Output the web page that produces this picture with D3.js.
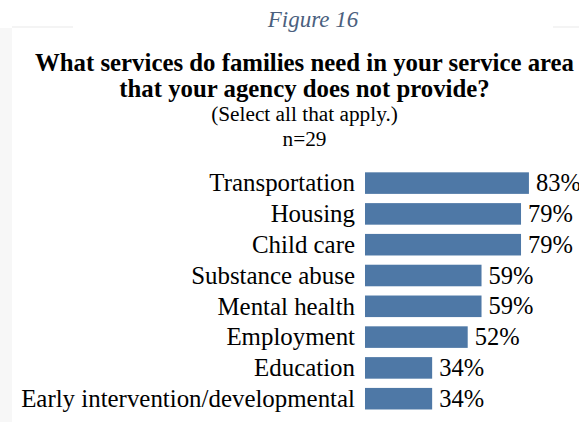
<!DOCTYPE html>
<html>
<head>
<meta charset="utf-8">
<script src="https://cdn.jsdelivr.net/npm/d3@7"></script>
<style>
  html, body { margin: 0; padding: 0; background: #ffffff; }
  svg { display: block; }
</style>
</head>
<body>
<div id="chart"></div>
<script>
// Share of agencies reporting each unmet service need
const categories = [
  "Transportation",
  "Housing",
  "Child care",
  "Substance abuse",
  "Mental health",
  "Employment",
  "Education",
  "Early intervention/developmental"
];
const values = [83, 79, 79, 59, 59, 52, 34, 34];

const figureLabel = "Figure 16";
const titleLines = [
  "What services do families need in your service area",
  "that your agency does not provide?"
];
const subtitleLines = ["(Select all that apply.)", "n=29"];

const W = 579, H = 422;
const serif = "'Liberation Serif', 'Times New Roman', serif";

const svg = d3.select("#chart").append("svg")
  .attr("width", W).attr("height", H);

// faint frame edges around the chart panel
svg.append("rect").attr("x", 0).attr("y", 28).attr("width", 12).attr("height", H - 28)
  .attr("fill", "#f7f7f7");
svg.append("rect").attr("x", 12).attr("y", 26).attr("width", 61).attr("height", 2)
  .attr("fill", "#f4f4f4");
svg.append("rect").attr("x", 553).attr("y", 26).attr("width", 26).attr("height", 2)
  .attr("fill", "#f4f4f4");

// headings
const cx = 304.5;
svg.append("text")
  .attr("x", 313).attr("y", 27)
  .attr("text-anchor", "middle")
  .attr("font-family", serif).attr("font-style", "italic")
  .attr("font-size", 23).attr("fill", "#4b5f7e")
  .text(figureLabel);

svg.selectAll("text.title").data(titleLines).join("text")
  .attr("class", "title")
  .attr("x", cx).attr("y", (d, i) => 71 + i * 26)
  .attr("text-anchor", "middle")
  .attr("font-family", serif).attr("font-weight", "bold")
  .attr("font-size", 24.8).attr("fill", "#000")
  .text(d => d);

svg.selectAll("text.sub").data(subtitleLines).join("text")
  .attr("class", "sub")
  .attr("x", cx).attr("y", (d, i) => 121 + i * 25)
  .attr("text-anchor", "middle")
  .attr("font-family", serif)
  .attr("font-size", 21.3).attr("fill", "#000")
  .text(d => d);

// scales
const x = d3.scaleLinear().domain([0, 100]).range([365, 562.5]);
const y = d3.scaleBand().domain(categories).range([167.7, 414.1])
  .paddingInner(0.3).paddingOuter(0.15);

const rows = categories.map((c, i) => ({ cat: c, val: values[i] }));

// bars
svg.selectAll("rect.bar").data(rows).join("rect")
  .attr("class", "bar")
  .attr("x", x(0))
  .attr("y", d => y(d.cat))
  .attr("width", d => x(d.val) - x(0))
  .attr("height", y.bandwidth())
  .attr("fill", "#4e78a6");

// category axis (labels only)
const yAxis = svg.append("g")
  .attr("transform", `translate(${x(0) - 10},0)`)
  .call(d3.axisLeft(y).tickSize(0).tickPadding(0));
yAxis.select(".domain").remove();
yAxis.selectAll("text")
  .attr("font-family", serif).attr("font-size", 24.9)
  .attr("fill", "#000").attr("dy", "0.33em");

// value labels
svg.selectAll("text.val").data(rows).join("text")
  .attr("class", "val")
  .attr("x", d => x(d.val) + 7)
  .attr("y", d => y(d.cat) + y.bandwidth() / 2)
  .attr("dy", "0.33em")
  .attr("font-family", serif).attr("font-size", 24.5).attr("fill", "#000")
  .text(d => d.val + "%");
</script>
</body>
</html>
